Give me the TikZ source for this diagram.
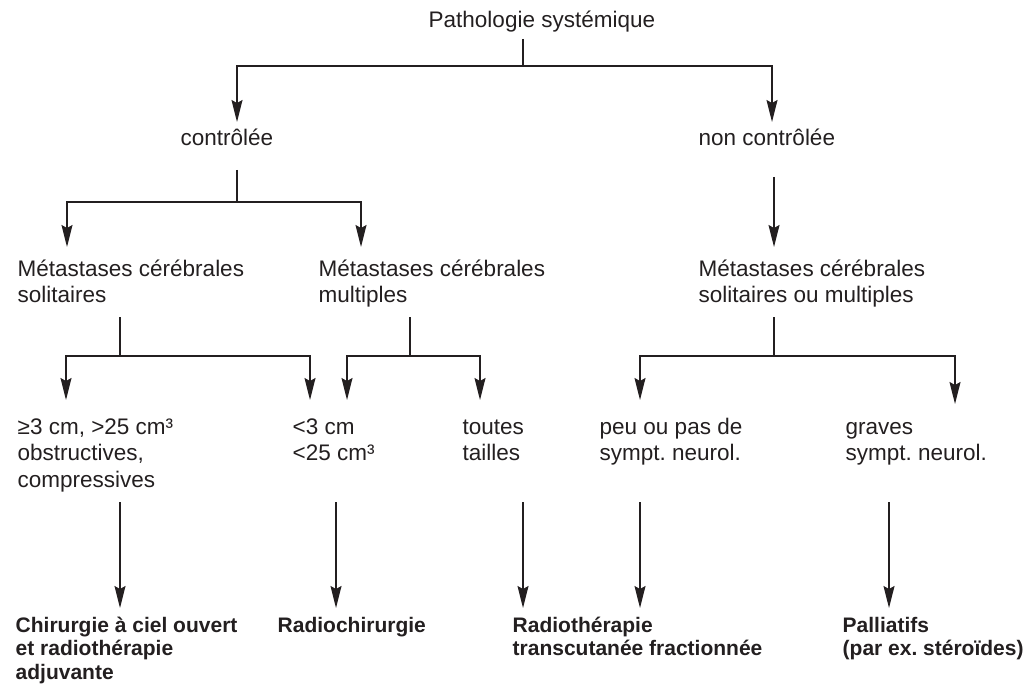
\documentclass[tikz,border=0pt]{standalone}
\usepackage{fontspec}
\setmainfont{Liberation Sans}
\frenchspacing
\usetikzlibrary{arrows.meta}
\definecolor{ink}{HTML}{231F20}

\begin{document}
\begin{tikzpicture}[x=1pt,y=-1pt,
    ink, line width=1.4pt,
    txt/.style={anchor=base west, inner sep=0pt, align=left, font=\fontsize{22.5}{26.5}\selectfont},
    res/.style={anchor=base west, inner sep=0pt, align=left, font=\fontsize{21}{23.5}\selectfont\bfseries},
    arr/.style={-{Stealth[length=22pt,width=11pt,inset=3pt]}}]
            \useasboundingbox (0,0) rectangle (1035,684);
            % textes (ancre : ligne de base de la derniere ligne)
            \node[txt] (patho) at (428,28) {Pathologie systémique};
            \node[txt] (ctrl) at (180,146) {contrôlée};
            \node[txt] (nctrl) at (698,146) {non contrôlée};
            \node[txt] (msol) at (17,302.5) {Métastases cérébrales\\solitaires};
            \node[txt] (mmul) at (318,302.5) {Métastases cérébrales\\multiples};
            \node[txt] (mtout) at (698,302.5) {Métastases cérébrales\\solitaires ou multiples};
            \node[txt] (grand) at (17,487) {≥3 cm, >25 cm³\\obstructives,\\compressives};
            \node[txt] (petit) at (292,460.5) {<3 cm\\<25 cm³};
            \node[txt] (toutes) at (462,460.5) {toutes\\tailles};
            \node[txt] (peu) at (599,460.5) {peu ou pas de\\sympt. neurol.};
            \node[txt] (graves) at (845,460.5) {graves\\sympt. neurol.};
            \node[res] (chir) at (15,679) {Chirurgie à ciel ouvert\\et radiothérapie\\adjuvante};
            \node[res] (rchir) at (277,632) {Radiochirurgie};
            \node[res] (rtrans) at (512,655.5) {Radiothérapie\\transcutanée fractionnée};
            \node[res] (pall) at (842,655.5) {Palliatifs\\(par ex. stéroïdes)};
            % points de jonction
            \coordinate (p0) at (523,39);
            \coordinate (j0) at (523,66);
            \coordinate (c0) at (237,170);
            \coordinate (j1) at (237,202);
            \coordinate (n0) at (774,177);
            \coordinate (s0) at (120,317);
            \coordinate (j2) at (120,356);
            \coordinate (m0) at (410,317);
            \coordinate (j3) at (410,356);
            \coordinate (t0) at (774,317);
            \coordinate (j4) at (774,356);
            % niveau 1
            \draw (p0)--(j0);
            \draw[arr] (j0)-|(237,122);
            \draw[arr] (j0)-|(772,122);
            % niveau 2
            \draw (c0)--(j1);
            \draw[arr] (j1)-|(67,247);
            \draw[arr] (j1)-|(361,247);
            \draw[arr] (n0)--(774,247);
            % niveau 3
            \draw (s0)--(j2);
            \draw[arr] (j2)-|(66,400);
            \draw[arr] (j2)-|(310,400);
            \draw (m0)--(j3);
            \draw[arr] (j3)-|(347,400);
            \draw[arr] (j3)-|(480,400);
            \draw (t0)--(j4);
            \draw[arr] (j4)-|(640,400);
            \draw[arr] (j4)-|(955,404);
            % niveau 4
            \foreach \x in {120,336,523,640,889}
                \draw[arr] (\x,502)--(\x,608);
\end{tikzpicture}
\end{document}
